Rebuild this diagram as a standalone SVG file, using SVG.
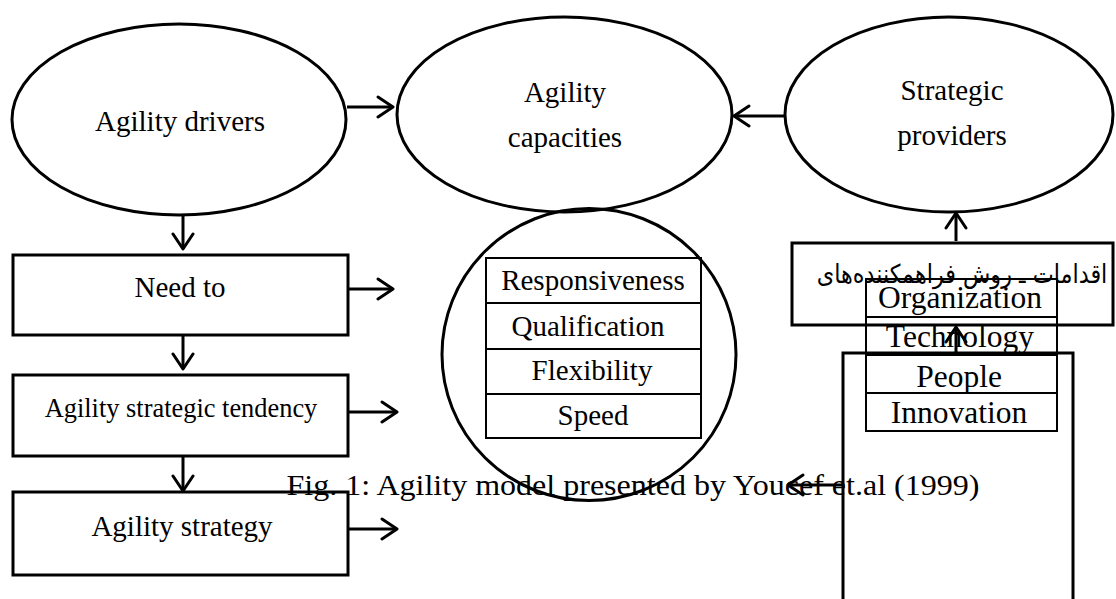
<svg xmlns="http://www.w3.org/2000/svg" width="1116" height="599" viewBox="0 0 1116 599">
<style>
.s{fill:none;stroke:#000;stroke-width:3}
.t{fill:none;stroke:#000;stroke-width:2}
.c{stroke:#000;stroke-width:3;fill:none}
text{font-family:"Liberation Serif","Times New Roman",serif;fill:#000;text-anchor:middle;font-size:29px}
.fa{font-family:"DejaVu Sans",sans-serif;font-size:26px}
.p{font-size:31.5px}
</style>
<defs>
<marker id="ah" markerUnits="userSpaceOnUse" viewBox="0 0 20 24" refX="18" refY="12" markerWidth="20" markerHeight="24" orient="auto">
<path d="M3,2 L18,12 L3,22" fill="none" stroke="#000" stroke-width="3" stroke-linecap="round" stroke-linejoin="round"/>
</marker>
</defs>
<rect width="1116" height="599" fill="#fff"/>

<g id="drivers">
<ellipse class="s" cx="179" cy="119.5" rx="167" ry="95.5"/>
<text x="180" y="131">Agility drivers</text>
</g>
<g id="capacities">
<ellipse class="s" cx="564.5" cy="114.5" rx="167.5" ry="97.5"/>
<text x="565" y="102">Agility</text>
<text x="565" y="147">capacities</text>
</g>
<g id="providers">
<ellipse class="s" cx="949" cy="114.5" rx="164" ry="97.5"/>
<text x="952" y="100">Strategic</text>
<text x="952" y="145">providers</text>
</g>
<g id="need">
<rect class="s" x="13" y="255" width="335" height="80"/>
<text x="180" y="297">Need to</text>
</g>
<g id="tendency">
<rect class="s" x="13" y="375" width="335" height="81"/>
<text x="181" y="417" style="font-size:26.4px">Agility strategic tendency</text>
</g>
<g id="strategy">
<rect class="s" x="13" y="492" width="335" height="83"/>
<text x="182" y="536">Agility strategy</text>
</g>
<g id="capacity-list">
<ellipse class="s" cx="589" cy="354.5" rx="147" ry="146"/>
<rect class="t" x="486" y="258" width="215" height="180"/>
<line class="t" x1="486" y1="303" x2="701" y2="303"/>
<line class="t" x1="486" y1="349" x2="701" y2="349"/>
<line class="t" x1="486" y1="394" x2="701" y2="394"/>
<text x="593" y="290">Responsiveness</text>
<text x="588" y="336">Qualification</text>
<text x="592" y="380">Flexibility</text>
<text x="593" y="425">Speed</text>
</g>
<g id="measures">
<rect class="s" x="792" y="243" width="321" height="82"/>
<text class="fa" transform="translate(962,283) scale(0.86,1)">اقدامات ـ روش فراهمکننده‌های</text>
</g>
<g id="provider-list">
<rect class="t" x="866" y="279" width="191" height="152"/>
<line class="t" x1="866" y1="317" x2="1057" y2="317"/>
<line class="t" x1="866" y1="355" x2="1057" y2="355"/>
<line class="t" x1="866" y1="393" x2="1057" y2="393"/>
<text class="p" x="960" y="308">Organization</text>
<text class="p" x="960" y="347">Technology</text>
<text class="p" x="959" y="387">People</text>
<text class="p" x="959" y="423">Innovation</text>
</g>
<g id="tall-box">
<rect class="s" x="843" y="353" width="230" height="260"/>
</g>
<g id="caption">
<text x="633" y="495" textLength="693" lengthAdjust="spacingAndGlyphs">Fig. 1: Agility model presented by Youcef et.al (1999)</text>
</g>

<g id="connectors">
<line class="c" x1="347" y1="107" x2="393" y2="107" marker-end="url(#ah)"/>
<line class="c" x1="785" y1="116" x2="734" y2="116" marker-end="url(#ah)"/>
<line class="c" x1="183" y1="215" x2="183" y2="249" marker-end="url(#ah)"/>
<line class="c" x1="348" y1="289" x2="393" y2="289" marker-end="url(#ah)"/>
<line class="c" x1="183" y1="335" x2="183" y2="369" marker-end="url(#ah)"/>
<line class="c" x1="348" y1="412" x2="397" y2="412" marker-end="url(#ah)"/>
<line class="c" x1="183" y1="456" x2="183" y2="491" marker-end="url(#ah)"/>
<line class="c" x1="348" y1="529" x2="397" y2="529" marker-end="url(#ah)"/>
<line class="c" x1="956" y1="241" x2="956" y2="213" marker-end="url(#ah)"/>
<line class="c" x1="956" y1="353" x2="956" y2="327" marker-end="url(#ah)"/>
<line class="c" x1="843" y1="485" x2="788" y2="485" marker-end="url(#ah)"/>
</g>
</svg>
